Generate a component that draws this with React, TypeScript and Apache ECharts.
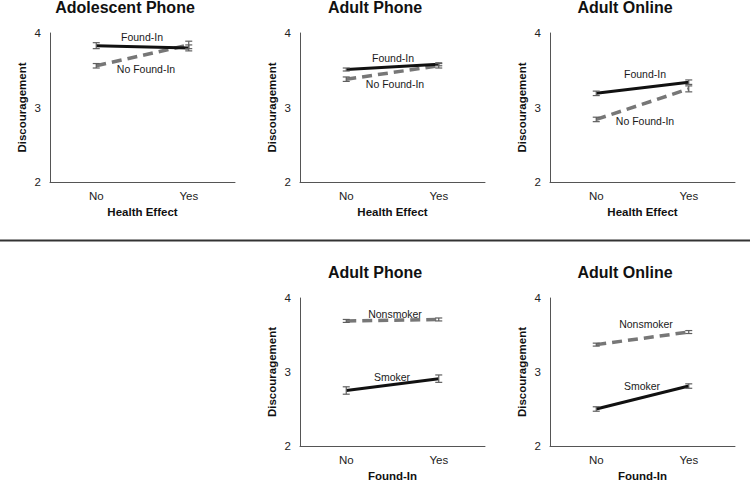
import React, { useEffect, useRef } from "react";
import * as echarts from "echarts";

// ---------- data ----------
const categories = ["No", "Yes"];
const yTicks = [2, 3, 4];

// Panel 1: Adolescent Phone (x: Health Effect)
const adolPhoneFoundIn = [3.83, 3.8];
const adolPhoneFoundInErr = [0.04, 0.04];
const adolPhoneNoFoundIn = [3.56, 3.84];
const adolPhoneNoFoundInErr = [0.03, 0.05];

// Panel 2: Adult Phone (x: Health Effect)
const adultPhoneFoundIn = [3.51, 3.58];
const adultPhoneFoundInErr = [0.02, 0.02];
const adultPhoneNoFoundIn = [3.38, 3.56];
const adultPhoneNoFoundInErr = [0.03, 0.03];

// Panel 3: Adult Online (x: Health Effect)
const adultOnlineFoundIn = [3.19, 3.34];
const adultOnlineFoundInErr = [0.03, 0.03];
const adultOnlineNoFoundIn = [2.84, 3.25];
const adultOnlineNoFoundInErr = [0.03, 0.04];

// Panel 4: Adult Phone (x: Found-In)
const adultPhoneNonsmoker = [3.69, 3.71];
const adultPhoneNonsmokerErr = [0.02, 0.02];
const adultPhoneSmoker = [2.75, 2.91];
const adultPhoneSmokerErr = [0.05, 0.05];

// Panel 5: Adult Online (x: Found-In)
const adultOnlineNonsmoker = [3.37, 3.54];
const adultOnlineNonsmokerErr = [0.02, 0.02];
const adultOnlineSmoker = [2.5, 2.81];
const adultOnlineSmokerErr = [0.03, 0.03];

const panelTitles = ["Adolescent Phone", "Adult Phone", "Adult Online", "Adult Phone", "Adult Online"];
const xAxisNames = ["Health Effect", "Health Effect", "Health Effect", "Found-In", "Found-In"];
const yAxisName = "Discouragement";
const solidNames = ["Found-In", "Found-In", "Found-In", "Smoker", "Smoker"];
const dashedNames = ["No Found-In", "No Found-In", "No Found-In", "Nonsmoker", "Nonsmoker"];

const solidValues = [adolPhoneFoundIn, adultPhoneFoundIn, adultOnlineFoundIn, adultPhoneSmoker, adultOnlineSmoker];
const solidErrs = [adolPhoneFoundInErr, adultPhoneFoundInErr, adultOnlineFoundInErr, adultPhoneSmokerErr, adultOnlineSmokerErr];
const dashedValues = [adolPhoneNoFoundIn, adultPhoneNoFoundIn, adultOnlineNoFoundIn, adultPhoneNonsmoker, adultOnlineNonsmoker];
const dashedErrs = [adolPhoneNoFoundInErr, adultPhoneNoFoundInErr, adultOnlineNoFoundInErr, adultPhoneNonsmokerErr, adultOnlineNonsmokerErr];

// ---------- layout ----------
const FONT = "'Liberation Sans', Arial, Helvetica, sans-serif";
const grids = [
  { left: 50, top: 33, width: 185, height: 149 },
  { left: 300, top: 33, width: 185, height: 149 },
  { left: 550, top: 33, width: 185, height: 149 },
  { left: 300, top: 298, width: 185, height: 150 },
  { left: 550, top: 298, width: 185, height: 150 },
];
const titlePos = [
  { x: 125, y: -1 },
  { x: 375, y: -1 },
  { x: 625, y: -1 },
  { x: 375, y: 264 },
  { x: 625, y: 264 },
];
// label anchor (center) positions for line annotations
const solidLabelPos = [
  { x: 142, y: 37 },
  { x: 393, y: 58 },
  { x: 645, y: 74 },
  { x: 392, y: 377 },
  { x: 642, y: 386 },
];
const dashedLabelPos = [
  { x: 146, y: 69 },
  { x: 395, y: 84 },
  { x: 645, y: 121 },
  { x: 395, y: 314 },
  { x: 646, y: 324 },
];

function errorData(vals: number[], errs: number[]) {
  return vals.map((v, i) => [i, v - errs[i], v + errs[i]]);
}

function renderErr(params: any, api: any) {
  const x = api.value(0);
  const lo = api.coord([x, api.value(1)]);
  const hi = api.coord([x, api.value(2)]);
  const w = 3.5;
  const style = { stroke: "#5f5f5f", lineWidth: 1.2 };
  return {
    type: "group",
    children: [
      { type: "line", shape: { x1: lo[0], y1: lo[1], x2: hi[0], y2: hi[1] }, style },
      { type: "line", shape: { x1: lo[0] - w, y1: lo[1], x2: lo[0] + w, y2: lo[1] }, style },
      { type: "line", shape: { x1: hi[0] - w, y1: hi[1], x2: hi[0] + w, y2: hi[1] }, style },
    ],
  };
}

export default function App() {
  const ref = useRef<HTMLDivElement>(null);

  useEffect(() => {
    document.body.style.margin = "0";
    if (!ref.current) return;
    const chart = echarts.init(ref.current, null, { renderer: "svg" });

    const title: any[] = panelTitles.map((t, i) => ({
      text: t,
      left: titlePos[i].x,
      top: titlePos[i].y,
      padding: 0,
      textAlign: "center",
      textStyle: { fontFamily: FONT, fontSize: 16, fontWeight: "bold", color: "#111" },
    }));

    const xAxis: any[] = grids.map((_, i) => ({
      type: "category",
      gridIndex: i,
      data: categories,
      boundaryGap: true,
      axisLine: { show: true, lineStyle: { color: "#555", width: 1 } },
      axisTick: { show: false },
      axisLabel: { fontFamily: FONT, fontSize: 11.5, color: "#222", margin: 8 },
      name: xAxisNames[i],
      nameLocation: "middle",
      nameGap: 24,
      nameTextStyle: { fontFamily: FONT, fontSize: 11.5, fontWeight: "bold", color: "#111" },
      splitLine: { show: false },
    }));

    const yAxis: any[] = grids.map((_, i) => ({
      type: "value",
      gridIndex: i,
      min: yTicks[0],
      max: yTicks[yTicks.length - 1],
      interval: 1,
      axisLine: { show: true, lineStyle: { color: "#555", width: 1 } },
      axisTick: { show: false },
      axisLabel: { fontFamily: FONT, fontSize: 11.5, color: "#222", margin: 9 },
      splitLine: { show: false },
      name: yAxisName,
      nameLocation: "middle",
      nameRotate: 90,
      nameGap: 22,
      nameTextStyle: { fontFamily: FONT, fontSize: 11.5, fontWeight: "bold", color: "#111" },
    }));

    const series: any[] = [];
    grids.forEach((_, i) => {
      series.push({
        type: "line",
        name: dashedNames[i],
        xAxisIndex: i,
        yAxisIndex: i,
        data: dashedValues[i],
        showSymbol: false,
        symbol: "none",
        lineStyle: { color: "#777", width: 3.5, type: [10, 6] },
        z: 2,
      });
      series.push({
        type: "line",
        name: solidNames[i],
        xAxisIndex: i,
        yAxisIndex: i,
        data: solidValues[i],
        showSymbol: false,
        symbol: "none",
        lineStyle: { color: "#111", width: 3 },
        z: 3,
      });
      series.push({
        type: "custom",
        xAxisIndex: i,
        yAxisIndex: i,
        data: errorData(dashedValues[i], dashedErrs[i]),
        encode: { x: 0, y: [1, 2] },
        renderItem: renderErr,
        z: 4,
      });
      series.push({
        type: "custom",
        xAxisIndex: i,
        yAxisIndex: i,
        data: errorData(solidValues[i], solidErrs[i]),
        encode: { x: 0, y: [1, 2] },
        renderItem: renderErr,
        z: 4,
      });
    });

    const graphic: any[] = [
      {
        type: "line",
        shape: { x1: 0, y1: 240.5, x2: 750, y2: 240.5 },
        style: { stroke: "#333", lineWidth: 1.8 },
      },
    ];
    grids.forEach((_, i) => {
      graphic.push({
        type: "text",
        x: solidLabelPos[i].x,
        y: solidLabelPos[i].y,
        style: {
          text: solidNames[i],
          fontFamily: FONT,
          fontSize: 10.5,
          fill: "#1a1a1a",
          align: "center",
          verticalAlign: "middle",
        },
      });
      graphic.push({
        type: "text",
        x: dashedLabelPos[i].x,
        y: dashedLabelPos[i].y,
        style: {
          text: dashedNames[i],
          fontFamily: FONT,
          fontSize: 10.5,
          fill: "#1a1a1a",
          align: "center",
          verticalAlign: "middle",
        },
      });
    });

    chart.setOption({
      animation: false,
      backgroundColor: "#fff",
      title,
      grid: grids.map((g) => ({ ...g, containLabel: false })),
      xAxis,
      yAxis,
      series,
      graphic,
    });

    return () => chart.dispose();
  }, []);

  return <div ref={ref} style={{ width: 750, height: 483 }} />;
}
